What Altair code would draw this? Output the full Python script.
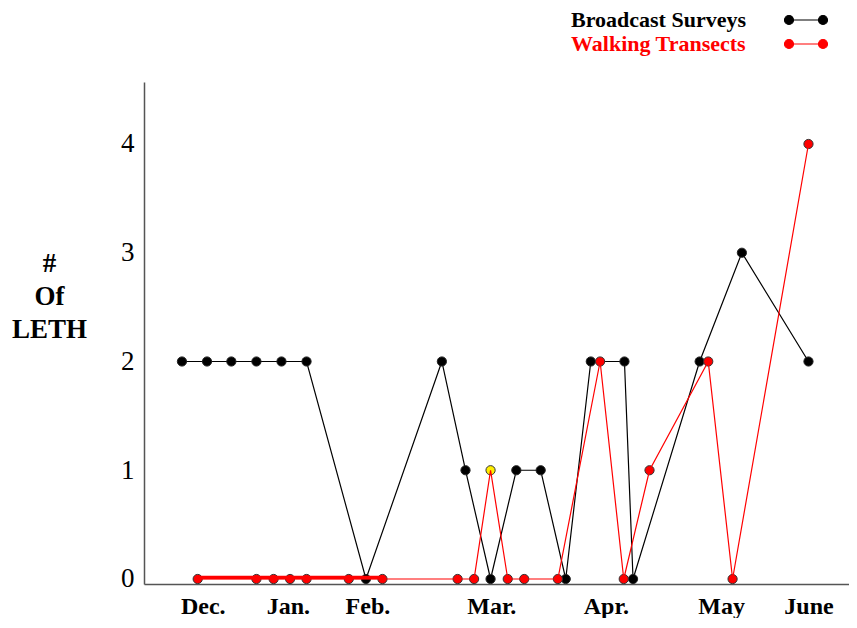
import json
import altair as alt
import pandas as pd

# ---- data (x = position along the survey timeline) ----
series = ["Broadcast Surveys", "Walking Transects"]
series_colors = ["#000000", "#ff0000"]

bs_t = [5.3, 8.8, 12.2, 15.7, 19.2, 22.7, 31.0, 41.6, 44.9, 48.4, 52.0, 55.4,
        58.9, 62.4, 67.1, 68.3, 77.6, 83.5, 92.8]
bs_n = [2, 2, 2, 2, 2, 2, 0, 2, 1, 0, 1, 1, 0, 2, 2, 0, 2, 3, 2]

wt_t = [7.5, 15.7, 18.1, 20.4, 22.7, 28.6, 33.3, 43.8, 46.1, 48.4, 50.8, 53.1,
        57.8, 63.7, 67.0, 70.6, 78.8, 82.2, 92.8]
wt_n = [0, 0, 0, 0, 0, 0, 0, 0, 0, 1, 0, 0, 0, 2, 0, 1, 2, 0, 4]
highlight_t = 48.4          # the transect drawn in yellow
early_end_t = 33.3          # end of the heavy red run (Dec.-Feb.)

month_t = [8.2, 20.1, 31.2, 48.5, 64.5, 80.6, 92.8]
month_lbl = ["Dec.", "Jan.", "Feb.", "Mar.", "Apr.", "May", "June"]
y_ticks = [0, 1, 2, 3, 4]

rows = [{"series": series[0], "t": t, "n": n} for t, n in zip(bs_t, bs_n)]
rows += [{"series": series[1], "t": t, "n": n} for t, n in zip(wt_t, wt_n)]
df = pd.DataFrame(rows)

SERIF = "Liberation Serif"
label_expr = f"{json.dumps(month_lbl)}[indexof({json.dumps(month_t)}, datum.value)]"

x = alt.X(
    "t:Q",
    scale=alt.Scale(domain=[0, 98.46], nice=False, zero=False),
    axis=alt.Axis(
        values=month_t, labelExpr=label_expr, title=None, ticks=False, grid=False,
        labelFont=SERIF, labelFontWeight="bold", labelFontSize=24, labelColor="black",
        labelPadding=10, labelFlush=False, labelOverlap=False,
        domainColor="#555555", domainWidth=1.5,
    ),
)
y = alt.Y(
    "n:Q",
    scale=alt.Scale(domain=[-0.046, 4.57], nice=False, zero=False),
    axis=alt.Axis(
        values=y_ticks, format="d", ticks=False, grid=False,
        labelFont=SERIF, labelFontSize=27, labelColor="black", labelPadding=10,
        domainColor="#555555", domainWidth=1.5,
        title=["#", "Of", "LETH"], titleAngle=0, titleFont=SERIF,
        titleFontWeight="bold", titleFontSize=27, titleColor="black",
        titleLineHeight=33, titleX=-95, titleY=181, titleAlign="center",
        titleBaseline="middle",
    ),
)

legend_symbol = ("M-17,0L17,0"
                 "M-12.5,0A4.5,4.5,0,1,1,-21.5,0A4.5,4.5,0,1,1,-12.5,0Z"
                 "M21.5,0A4.5,4.5,0,1,1,12.5,0A4.5,4.5,0,1,1,21.5,0Z")
sym_color_expr = f"datum.value === '{series[1]}' ? '{series_colors[1]}' : '{series_colors[0]}'"
label_color_expr = f"datum.label === '{series[1]}' ? '{series_colors[1]}' : '{series_colors[0]}'"

color = alt.Color(
    "series:N",
    scale=alt.Scale(domain=series, range=series_colors),
    legend=alt.Legend(
        title=None, orient="none", legendX=651, legendY=-73, padding=0,
        symbolType=legend_symbol, symbolSize=4, symbolStrokeWidth=1.2,
        symbolFillColor=alt.ExprRef(expr=sym_color_expr),
        symbolStrokeColor=alt.ExprRef(expr=sym_color_expr),
        labelColor=alt.ExprRef(expr=label_color_expr),
        labelFont=SERIF, labelFontWeight="bold", labelFontSize=22,
        labelAlign="left", labelOffset=alt.ExprRef(expr="-246"),
        rowPadding=2, labelLimit=400,
    ),
)

base = alt.Chart(df)

black_line = base.transform_filter(alt.datum.series == series[0]).mark_line(
    strokeWidth=1.2).encode(x=x, y=y, color=color)

black_pts = base.transform_filter(alt.datum.series == series[0]).mark_circle(
    size=85, color="#000000", stroke="#222222", strokeWidth=1, opacity=1
).encode(x=x, y=y)

red_pts = base.transform_filter(alt.datum.series == series[1]).mark_circle(
    size=85, stroke="#333333", strokeWidth=1, opacity=1
).encode(
    x=x, y=y,
    fill=alt.condition(f"datum.t == {highlight_t}", alt.value("#ffee00"), alt.value("#ff0000")),
)

red_line = base.transform_filter(alt.datum.series == series[1]).mark_line(
    strokeWidth=1.2).encode(x=x, y=y, color=color)

red_heavy = base.transform_filter(
    (alt.datum.series == series[1]) & (alt.datum.t <= early_end_t)
).mark_line(strokeWidth=3.5, color="#ff0000", yOffset=-1.5).encode(x=x, y=y)

chart = alt.layer(black_line, black_pts, red_pts, red_line, red_heavy).properties(
    width=705, height=502,
    autosize=alt.AutoSizeParams(type="none"),
    padding={"left": 136, "top": 74, "right": 0, "bottom": 34},
    background="white",
).configure_view(stroke=None)

chart.save("out.html", embed_options={"renderer": "svg", "actions": False})
